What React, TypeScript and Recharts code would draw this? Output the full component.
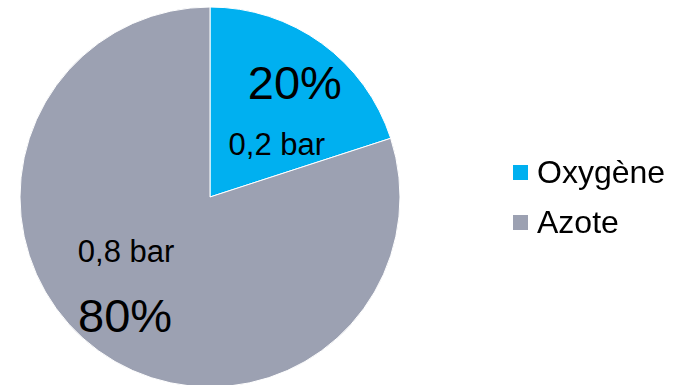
import React from "react"
import { PieChart, Pie, Cell, Legend } from "recharts"

const gases = ["Oxygène", "Azote"]
const shares = [20, 80]
const pressures = ["0,2 bar", "0,8 bar"]

const COLORS = ["#00B0F0", "#9CA1B2"]
// where the pressure label sits relative to the percent label, per slice
const BAR_OFFSET = [
  { dx: -18, dy: 75 },
  { dx: 1, dy: -52 },
]

const FONT = "'Liberation Sans', Arial, sans-serif"
const RAD = Math.PI / 180

const data = gases.map((g, i) => ({ name: g, value: shares[i], bar: pressures[i] }))

function SliceLabel(props: any) {
  const { cx, cy, midAngle, outerRadius, index, value } = props
  const r = outerRadius * 0.76
  const x = cx + r * Math.cos(-midAngle * RAD)
  const y = cy + r * Math.sin(-midAngle * RAD)
  const off = BAR_OFFSET[index]
  return (
    <g fontFamily={FONT} fill="#000">
      <text x={x} y={y + 18.5} textAnchor="middle" fontSize={47}>
        {value}%
      </text>
      <text x={x + off.dx} y={y + off.dy} textAnchor="middle" fontSize={31}>
        {data[index].bar}
      </text>
    </g>
  )
}

function LegendBox() {
  return (
    <div style={{ fontFamily: FONT, fontSize: 32, color: "#000" }}>
      {data.map((d, i) => (
        <div key={d.name} style={{ display: "flex", alignItems: "center", height: 50 }}>
          <span style={{ width: 15, height: 15, background: COLORS[i], marginRight: 9, display: "inline-block" }} />
          <span>{d.name}</span>
        </div>
      ))}
    </div>
  )
}

export default function App() {
  return (
    <div style={{ position: "fixed", left: 0, top: 0, width: 681, height: 385, background: "#fff" }}>
      <PieChart width={681} height={385} margin={{ top: 0, right: 0, bottom: 0, left: 0 }}>
        <Pie
          data={data}
          dataKey="value"
          nameKey="name"
          cx={210}
          cy={197}
          outerRadius={190}
          startAngle={90}
          endAngle={-270}
          stroke="#fff"
          strokeWidth={1}
          label={SliceLabel}
          labelLine={false}
          isAnimationActive={false}
        >
          {data.map((_, i) => (
            <Cell key={i} fill={COLORS[i]} />
          ))}
        </Pie>
        <Legend
          content={<LegendBox />}
          wrapperStyle={{ position: "absolute", left: 513, top: 147, width: 170 }}
        />
      </PieChart>
    </div>
  )
}
